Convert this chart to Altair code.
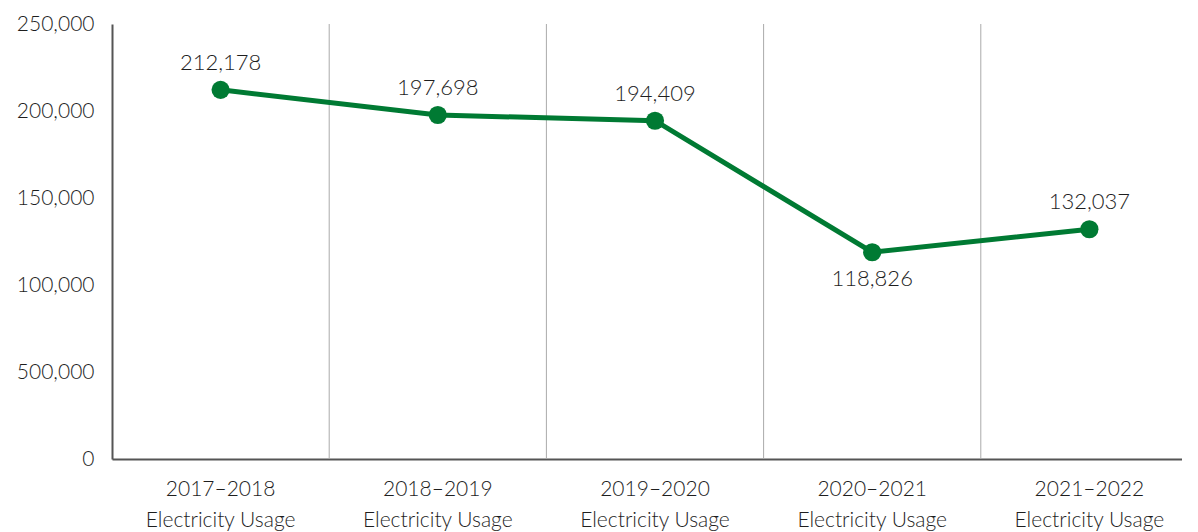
import altair as alt
import pandas as pd

periods = ["2017–2018", "2018–2019", "2019–2020", "2020–2021", "2021–2022"]
usage = [212178, 197698, 194409, 118826, 132037]
label_side = ["above", "above", "above", "below", "above"]
y_ticks = [0, 50000, 100000, 150000, 200000, 250000]
y_tick_labels = ["0", "500,000", "100,000", "150,000", "200,000", "250,000"]

cats = [p + "|Electricity Usage" for p in periods]
df = pd.DataFrame({"cat": cats, "usage": usage, "side": label_side,
                   "txt": [f"{v:,}" for v in usage]})
grid_df = pd.DataFrame({"cat": cats[1:]})

FONT = "Lato"
GREEN = "#007A33"
TXT = "#1E1E1E"
WEIGHT = 300

label_map = "{" + ",".join(f"'{v}':'{l}'" for v, l in zip(y_ticks, y_tick_labels)) + "}"

x_enc = alt.X("cat:N", sort=cats,
              scale=alt.Scale(type="band", paddingInner=0, paddingOuter=0,
                              range=[0, 1086]),
              axis=alt.Axis(title=None, labelExpr="split(datum.label, '|')",
                            labelAngle=0, labelAlign="center", ticks=False,
                            domain=True, domainColor="#555555", domainWidth=2,
                            labelFont=FONT, labelFontSize=21, labelColor=TXT,
                            labelFontWeight=WEIGHT,
                            labelPadding=30, labelLineHeight=31, grid=False))
y_enc = alt.Y("usage:Q", scale=alt.Scale(domain=[0, 250000], nice=False),
              axis=alt.Axis(title=None, values=y_ticks,
                            labelExpr=label_map + "[datum.value]",
                            ticks=False, grid=False, domainColor="#555555",
                            domainWidth=2, labelFont=FONT, labelFontSize=21,
                            labelFontWeight=WEIGHT,
                            labelColor=TXT, labelPadding=18))

grid = alt.Chart(grid_df).mark_rule(color="#AAAAAA", strokeWidth=1).encode(
    x=alt.X("cat:N", sort=cats, bandPosition=0),
    y=alt.value(0), y2=alt.value(435))

line = alt.Chart(df).mark_line(color=GREEN, strokeWidth=5).encode(
    x=x_enc, y=y_enc)
pts = alt.Chart(df).mark_circle(color=GREEN, size=330, opacity=1).encode(
    x=alt.X("cat:N", sort=cats), y="usage:Q")
txt_above = alt.Chart(df).transform_filter("datum.side == 'above'").mark_text(
    font=FONT, fontSize=22, fontWeight=WEIGHT, color=TXT, dy=-27,
    baseline="middle").encode(
    x=alt.X("cat:N", sort=cats), y="usage:Q", text="txt:N")
txt_below = alt.Chart(df).transform_filter("datum.side == 'below'").mark_text(
    font=FONT, fontSize=22, fontWeight=WEIGHT, color=TXT, dy=27,
    baseline="middle").encode(
    x=alt.X("cat:N", sort=cats), y="usage:Q", text="txt:N")

chart = alt.layer(grid, line, pts, txt_above, txt_below).properties(
    width=1070, height=435,
    background="white",
    autosize=alt.AutoSizeParams(type="none"),
    padding={"left": 104, "top": 16, "right": 0, "bottom": 73},
).configure_axis(grid=False).configure_view(strokeWidth=0, stroke="transparent")

chart.save("out.html", embed_options={"renderer": "svg", "actions": False})
